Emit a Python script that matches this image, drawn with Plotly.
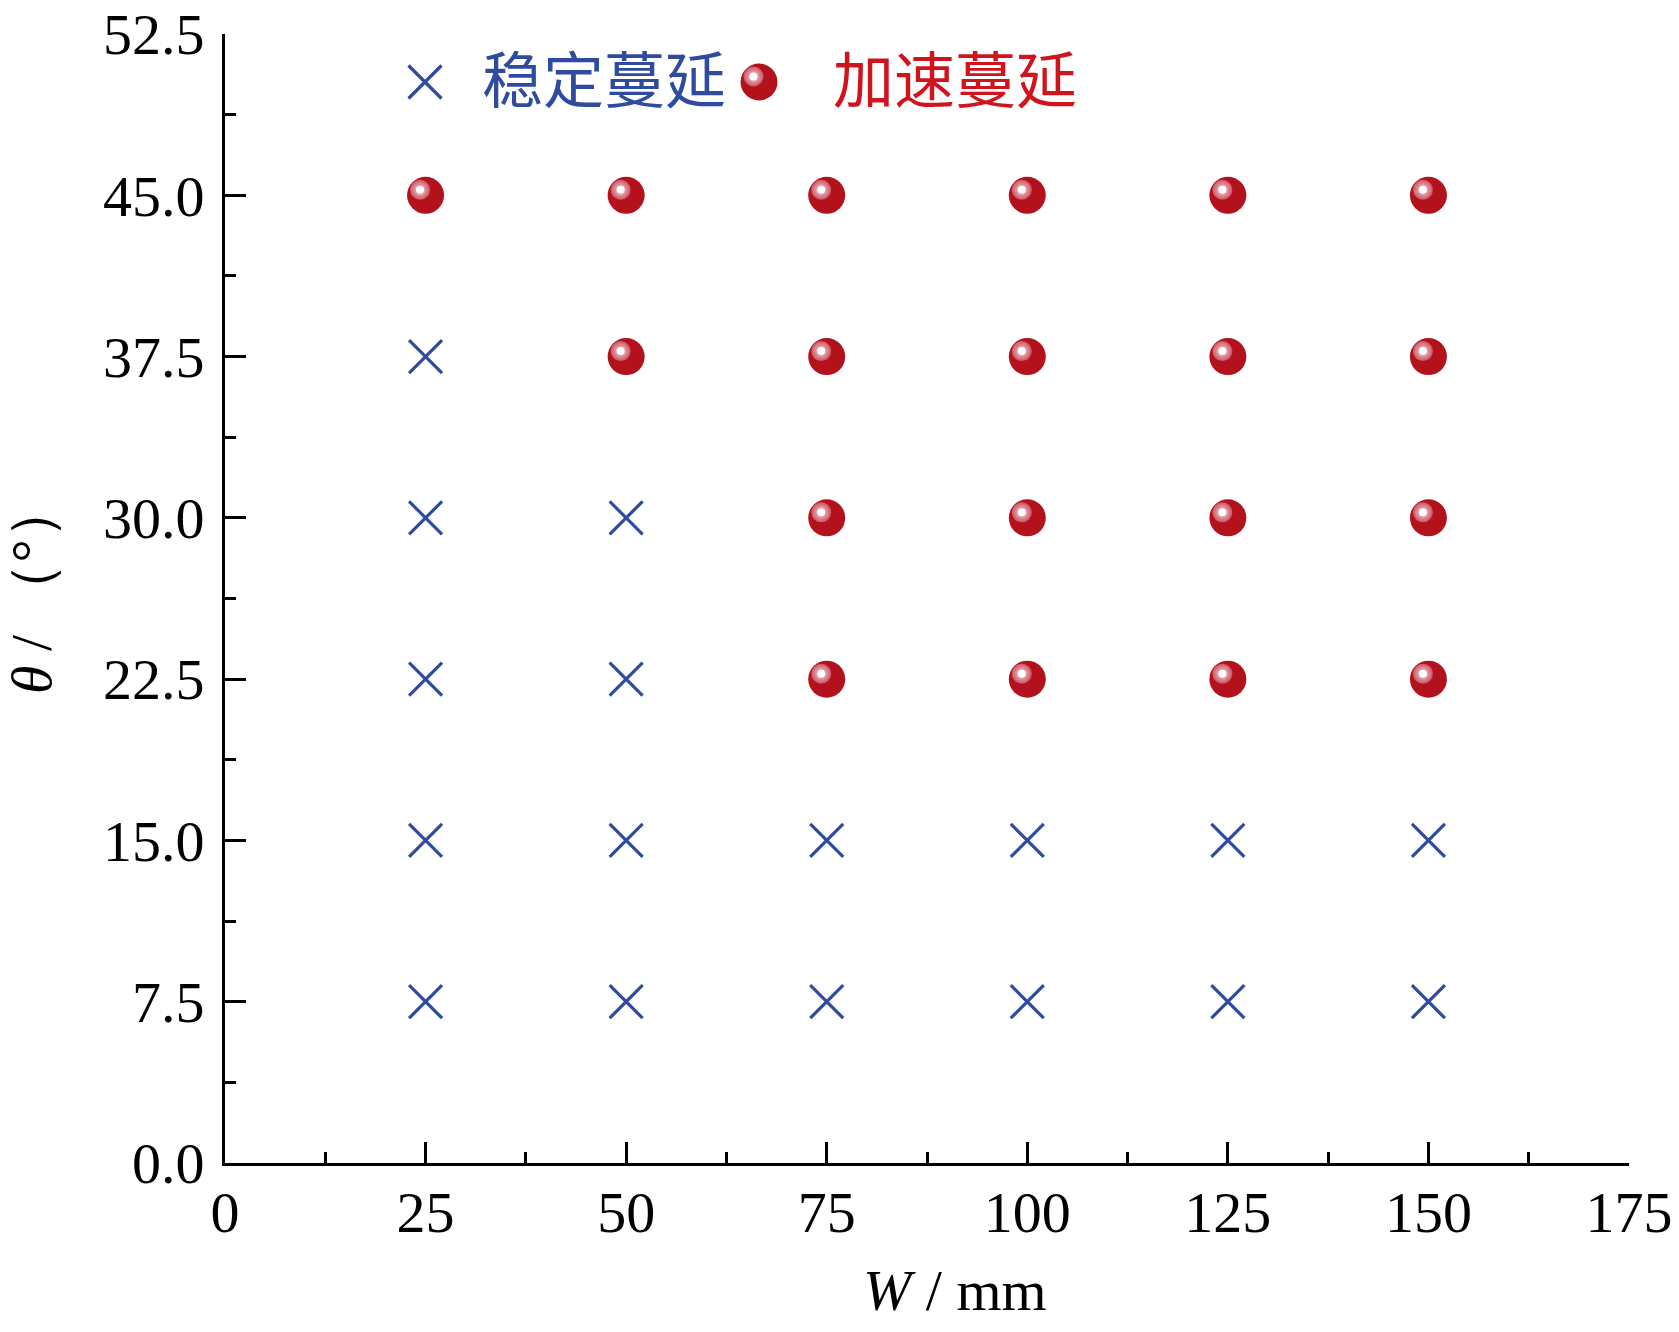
import plotly.graph_objects as go

# width W (mm) and angle theta (deg) for each observed case
stable_w = [25, 25, 25, 25, 25,
            50, 50, 50, 50,
            75, 75, 100, 100, 125, 125, 150, 150]
stable_theta = [7.5, 15.0, 22.5, 30.0, 37.5,
                7.5, 15.0, 22.5, 30.0,
                7.5, 15.0, 7.5, 15.0, 7.5, 15.0, 7.5, 15.0]

accel_w = [25,
           50, 50,
           75, 75, 75, 75,
           100, 100, 100, 100,
           125, 125, 125, 125,
           150, 150, 150, 150]
accel_theta = [45.0,
               37.5, 45.0,
               22.5, 30.0, 37.5, 45.0,
               22.5, 30.0, 37.5, 45.0,
               22.5, 30.0, 37.5, 45.0,
               22.5, 30.0, 37.5, 45.0]

legend_names = ["稳定蔓延", "加速蔓延"]

BLUE = "#2F4B9F"
RED = "#B3121C"
RED_TEXT = "#D0141E"
FONT = "Liberation Serif"

# page has an 8px body margin, so the figure is that much smaller
W, H = 1663, 1316
L, R, T, B = 217, 42, 26, 161
X_RANGE = [0, 175]
Y_RANGE = [0, 52.5]
plot_w = W - L - R
plot_h = H - T - B
# highlight offset on the spheres (pixels, up-left)
HL = 5.5
dx = HL * (X_RANGE[1] - X_RANGE[0]) / plot_w
dy = HL * (Y_RANGE[1] - Y_RANGE[0]) / plot_h


def px_x(x):
    return (x - L) / plot_w


def px_y(y):
    # y measured from the top of the figure
    return (H - B - y) / plot_h


def sphere(xs, ys, xa="x", ya="y", hx="x2", hy="y2"):
    base = go.Scatter(x=xs, y=ys, mode="markers", xaxis=xa, yaxis=ya,
                      marker=dict(symbol="circle", size=37, color=RED,
                                  line=dict(width=0)),
                      showlegend=False, hoverinfo="skip")
    glow = go.Scatter(x=xs, y=ys, mode="markers", xaxis=hx, yaxis=hy,
                      marker=dict(symbol="circle", size=20, color="#CC5564",
                                  gradient=dict(type="radial", color="#F6D8DC"),
                                  line=dict(width=0)),
                      showlegend=False, hoverinfo="skip")
    core = go.Scatter(x=xs, y=ys, mode="markers", xaxis=hx, yaxis=hy,
                      marker=dict(symbol="circle", size=8, color="white",
                                  line=dict(width=0)),
                      showlegend=False, hoverinfo="skip")
    return [base, glow, core]


data = []
data.append(go.Scatter(
    x=stable_w, y=stable_theta, mode="markers", name=legend_names[0],
    marker=dict(symbol="x-thin", size=33, line=dict(width=3.2, color=BLUE)),
    showlegend=False))
data += sphere(accel_w, accel_theta)

# hand-drawn legend, placed in figure pixels (measured from bottom-left)
leg_y = H - 74
data.append(go.Scatter(
    x=[417], y=[leg_y], mode="markers", xaxis="x3", yaxis="y3",
    marker=dict(symbol="x-thin", size=33, line=dict(width=3.2, color=BLUE)),
    showlegend=False, hoverinfo="skip"))
data += sphere([751], [leg_y], xa="x3", ya="y3", hx="x4", hy="y4")

axis_common = dict(
    showline=True, linecolor="black", linewidth=3, mirror=False,
    ticks="inside", ticklen=21, tickwidth=2.5, tickcolor="black",
    showgrid=False, zeroline=False, automargin=False,
    ticklabeloverflow="allow",
    tickfont=dict(family=FONT, size=58, color="black"),
)

layout = go.Layout(
    template="none",
    width=W, height=H,
    margin=dict(l=L, r=R, t=T, b=B, autoexpand=False),
    paper_bgcolor="white", plot_bgcolor="white",
    showlegend=False,
    xaxis=dict(range=X_RANGE, dtick=25, tick0=0,
               minor=dict(ticks="inside", ticklen=11, tickwidth=2.5,
                          dtick=12.5, tickcolor="black"),
               ticklabelstandoff=-4,
               **axis_common),
    yaxis=dict(range=Y_RANGE, dtick=7.5, tick0=0, tickformat=".1f",
               minor=dict(ticks="inside", ticklen=11, tickwidth=2.5,
                          dtick=3.75, tickcolor="black"),
               ticklabelstandoff=6,
               **axis_common),
    xaxis2=dict(overlaying="x", range=[X_RANGE[0] + dx, X_RANGE[1] + dx],
                visible=False),
    yaxis2=dict(overlaying="y", range=[Y_RANGE[0] - dy, Y_RANGE[1] - dy],
                visible=False),
    xaxis3=dict(overlaying="x", range=[L, W - R], visible=False),
    yaxis3=dict(overlaying="y", range=[B, H - T], visible=False),
    xaxis4=dict(overlaying="x", range=[L + HL, W - R + HL], visible=False),
    yaxis4=dict(overlaying="y", range=[B - HL, H - T - HL], visible=False),
    annotations=[
        dict(text="<i>W</i> / mm", xref="paper", yref="paper",
             x=px_x(947), y=px_y(1282),
             showarrow=False, xanchor="center", yanchor="middle",
             font=dict(family=FONT, size=58, color="black")),
        dict(text="<i>θ</i> / （°）", xref="paper", yref="paper",
             x=px_x(23), y=px_y(580),
             showarrow=False, textangle=-90, xanchor="center", yanchor="middle",
             font=dict(family=FONT, size=58, color="black")),
        dict(text=legend_names[0], xref="paper", yref="paper",
             x=px_x(472), y=px_y(68),
             showarrow=False, xanchor="left", yanchor="middle",
             font=dict(family="Noto Sans CJK SC", size=61, color=BLUE)),
        dict(text=legend_names[1], xref="paper", yref="paper",
             x=px_x(823), y=px_y(68),
             showarrow=False, xanchor="left", yanchor="middle",
             font=dict(family="Noto Sans CJK SC", size=61, color=RED_TEXT)),
    ],
)

fig = go.Figure(data=data, layout=layout)
fig.write_html("out.html")
